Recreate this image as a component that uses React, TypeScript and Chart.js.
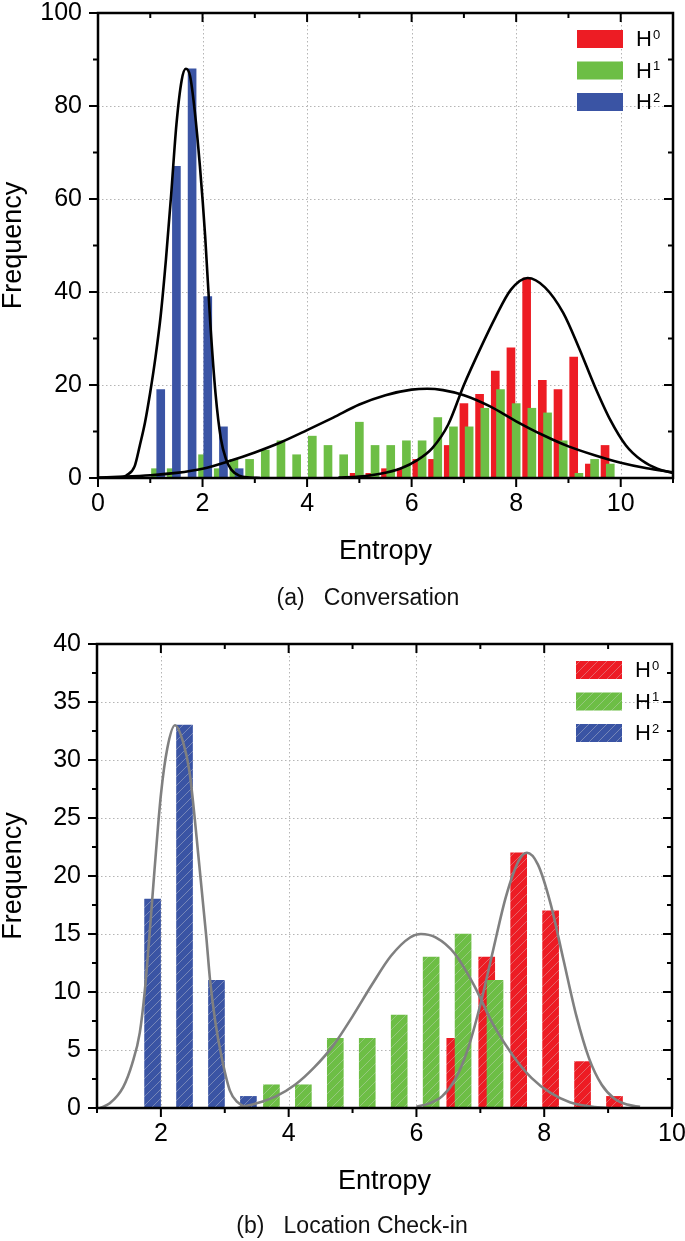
import React, { useEffect, useRef } from 'react';
import { Chart, registerables } from 'chart.js';

Chart.register(...registerables);

const FONT = '"Liberation Sans", Arial, Helvetica, sans-serif';
Chart.defaults.font.family = FONT;

const RED = '#ED1C24';
const GREEN = '#6DBE45';
const BLUE = '#3A54A4';

// ---------- (a) Conversation ----------
const A_H0_X = [4.9, 5.2, 5.5, 5.8, 6.1, 6.4, 6.7, 7.0, 7.3, 7.6, 7.9, 8.2, 8.5, 8.8, 9.1, 9.4, 9.7];
const A_H0_Y = [1, 1, 2, 2, 4, 4, 7, 16, 18, 23, 28, 43, 21, 19, 26, 3, 7];
const A_H1_X = [1.1, 1.4, 2.0, 2.3, 2.6, 2.9, 3.2, 3.5, 3.8, 4.1, 4.4, 4.7, 5.0, 5.3, 5.6, 5.9, 6.2, 6.5, 6.8, 7.1, 7.4, 7.7, 8.0, 8.3, 8.6, 8.9, 9.2, 9.5, 9.8];
const A_H1_Y = [2, 2, 5, 2, 4, 4, 6, 8, 5, 9, 7, 5, 12, 7, 7, 8, 8, 13, 11, 11, 15, 19, 16, 15, 14, 8, 1, 4, 3];
const A_H2_X = [1.2, 1.5, 1.8, 2.1, 2.4, 2.7];
const A_H2_Y = [19, 67, 88, 39, 11, 2];

const A_FIT0_X = [4.6, 5.0, 5.4, 5.8, 6.1, 6.4, 6.7, 7.0, 7.3, 7.6, 7.9, 8.22, 8.55, 8.9, 9.2, 9.5, 9.8, 10.1, 10.4, 10.7, 11.0];
const A_FIT0_Y = [0.1, 0.3, 0.9, 2.1, 3.8, 6.5, 11.5, 20, 27.5, 34.5, 40.5, 43, 41, 35.5, 28, 19.8, 12.5, 7, 3.8, 2, 1.1];
const A_FIT1_X = [0, 0.5, 1, 1.5, 2, 2.5, 3, 3.5, 4, 4.5, 5, 5.5, 6, 6.3, 6.6, 7, 7.5, 8, 8.5, 9, 9.5, 10, 10.5, 11];
const A_FIT1_Y = [0.1, 0.3, 0.6, 1.1, 2, 3.6, 5.5, 7.7, 10.3, 13, 15.8, 17.8, 19, 19.2, 18.9, 17.8, 15.4, 12.2, 9.3, 6.8, 4.9, 3.3, 2.1, 1.2];
const A_FIT2_X = [0, 0.4, 0.55, 0.7, 0.8, 0.9, 1.0, 1.1, 1.2, 1.3, 1.4, 1.5, 1.6, 1.68, 1.76, 1.85, 1.95, 2.05, 2.15, 2.25, 2.35, 2.45, 2.55, 2.7, 2.9, 3.1];
const A_FIT2_Y = [0, 0.1, 0.6, 2.5, 7, 12, 18.5, 26, 35, 47, 61, 76, 85.5, 88, 86.5, 79, 67, 52, 33, 18, 8.5, 4, 1.8, 0.5, 0.1, 0];

const A_X_LABELS = [0, 2, 4, 6, 8, 10];
const A_Y_LABELS = [0, 20, 40, 60, 80, 100];

// ---------- (b) Location Check-in ----------
const B_H0_X = [6.6, 7.1, 7.6, 8.1, 8.6, 9.1];
const B_H0_Y = [6, 13, 22, 17, 4, 1];
const B_H1_X = [3.73, 4.23, 4.73, 5.23, 5.73, 6.23, 6.73, 7.23];
const B_H1_Y = [2, 2, 6, 6, 8, 13, 15, 11];
const B_H2_X = [1.87, 2.37, 2.87, 3.37];
const B_H2_Y = [18, 33, 11, 1];

const B_FIT0_X = [6.0, 6.2, 6.4, 6.6, 6.8, 7.0, 7.2, 7.4, 7.6, 7.73, 7.9, 8.1, 8.3, 8.5, 8.7, 8.9, 9.1, 9.3, 9.5];
const B_FIT0_Y = [0.1, 0.4, 1.0, 2.4, 5.0, 8.9, 13.6, 18.2, 21.3, 22, 21.0, 17.6, 12.8, 8.0, 4.3, 2.0, 0.8, 0.3, 0.1];
const B_FIT1_X = [3.2, 3.5, 3.8, 4.1, 4.4, 4.7, 5.0, 5.3, 5.6, 5.9, 6.07, 6.3, 6.6, 6.9, 7.2, 7.5, 7.8, 8.1, 8.4, 8.7, 9.0];
const B_FIT1_Y = [0, 0.4, 1.0, 2.0, 3.5, 5.4, 7.9, 10.6, 13.1, 14.7, 15, 14.7, 13.3, 10.6, 7.2, 4.6, 2.6, 1.3, 0.5, 0.15, 0];
const B_FIT2_X = [1.05, 1.2, 1.41, 1.55, 1.67, 1.75, 1.83, 1.9, 2.0, 2.1, 2.22, 2.35, 2.45, 2.6, 2.71, 2.77, 2.85, 2.95, 3.08, 3.2, 3.35];
const B_FIT2_Y = [0, 0.4, 1.8, 3.8, 6.5, 10.2, 15.5, 20.5, 27, 31, 33, 31.5, 28.9, 21, 14.8, 11, 7.5, 4.4, 1.5, 0.5, 0];

const B_X_LABELS = [2, 4, 6, 8, 10];
const B_Y_LABELS = [0, 5, 10, 15, 20, 25, 30, 35, 40];

const SUPS = ['0', '1', '2'];

function hatch(color: string): CanvasPattern | string {
  const c = document.createElement('canvas');
  c.width = 9;
  c.height = 9;
  const g = c.getContext('2d');
  if (!g) return color;
  g.fillStyle = color;
  g.fillRect(0, 0, 9, 9);
  g.strokeStyle = 'rgba(215,215,215,0.38)';
  g.lineWidth = 1;
  g.beginPath();
  g.moveTo(-1, 10); g.lineTo(10, -1);
  g.moveTo(-1, 1); g.lineTo(1, -1);
  g.moveTo(8, 10); g.lineTo(10, 8);
  g.stroke();
  return g.createPattern(c, 'repeat') || color;
}

function framePlugin(legendFills: any[]) {
  return {
    id: 'frame',
    beforeDatasetsDraw(chart: any) {
      const { ctx, chartArea: a } = chart;
      const xs = chart.scales.x;
      const ys = chart.scales.y;
      ctx.save();
      ctx.strokeStyle = '#b5b5b5';
      ctx.lineWidth = 1;
      ctx.setLineDash([1.5, 2.5]);
      for (const t of xs.ticks) {
        if (!t.label) continue;
        const p = Math.round(xs.getPixelForValue(t.value)) + 0.5;
        if (p <= a.left + 3 || p >= a.right - 3) continue;
        ctx.beginPath(); ctx.moveTo(p, a.top); ctx.lineTo(p, a.bottom); ctx.stroke();
      }
      for (const t of ys.ticks) {
        if (!t.label) continue;
        const p = Math.round(ys.getPixelForValue(t.value)) + 0.5;
        if (p <= a.top + 3 || p >= a.bottom - 3) continue;
        ctx.beginPath(); ctx.moveTo(a.left, p); ctx.lineTo(a.right, p); ctx.stroke();
      }
      ctx.restore();
    },
    afterDraw(chart: any) {
      const { ctx, chartArea: a } = chart;
      const xs = chart.scales.x;
      const ys = chart.scales.y;
      ctx.save();
      ctx.strokeStyle = '#000';
      ctx.lineWidth = 2;
      for (const t of xs.ticks) {
        const L = t.label ? 9 : 5;
        const p = xs.getPixelForValue(t.value);
        ctx.beginPath();
        ctx.moveTo(p, a.bottom); ctx.lineTo(p, a.bottom + L);
        ctx.moveTo(p, a.top); ctx.lineTo(p, a.top + L);
        ctx.stroke();
      }
      for (const t of ys.ticks) {
        const L = t.label ? 9 : 5;
        const p = ys.getPixelForValue(t.value);
        ctx.beginPath();
        ctx.moveTo(a.left - L, p); ctx.lineTo(a.left, p);
        ctx.moveTo(a.right - L, p); ctx.lineTo(a.right, p);
        ctx.stroke();
      }
      ctx.lineWidth = 2.5;
      ctx.strokeRect(a.left, a.top, a.right - a.left, a.bottom - a.top);
      // legend
      const bx = a.right - 96;
      legendFills.forEach((fill, i) => {
        const cy = a.top + 26 + i * 31.5;
        ctx.fillStyle = fill;
        ctx.fillRect(bx, cy - 9, 46, 18);
        ctx.fillStyle = '#000';
        ctx.textAlign = 'left';
        ctx.textBaseline = 'middle';
        ctx.font = `22px ${FONT}`;
        ctx.fillText('H', a.right - 37, cy + 1);
        const w = ctx.measureText('H').width;
        ctx.font = `13px ${FONT}`;
        ctx.fillText(SUPS[i], a.right - 37 + w + 1, cy - 4);
      });
      ctx.restore();
    },
  };
}

type Spec = {
  bars: { x: number[]; y: number[] }[];
  colors: string[];
  patterned: boolean;
  thickness: number;
  fits: { x: number[]; y: number[] }[];
  fitColor: string;
  xMin: number; xMax: number; xStep: number; xLabels: number[];
  yMin: number; yMax: number; yStep: number; yLabels: number[];
  axisWidth: number; axisHeight: number; padTop: number; padRight: number; titlePad: number;
};

function buildConfig(spec: Spec): any {
  const fills = spec.colors.map((c) => (spec.patterned ? hatch(c) : c));
  const barSets = spec.bars.map((b, i) => ({
    type: 'bar',
    label: 'H' + SUPS[i],
    data: b.x.map((x, j) => ({ x, y: b.y[j] })),
    backgroundColor: fills[i],
    borderWidth: 0,
    barThickness: spec.thickness,
    grouped: false,
    order: 3 - i,
  }));
  const lineSets = spec.fits.map((f, i) => ({
    type: 'line',
    label: 'fit' + i,
    data: f.x.map((x, j) => ({ x, y: f.y[j] })),
    borderColor: spec.fitColor,
    borderWidth: 2.6,
    pointRadius: 0,
    fill: false,
    cubicInterpolationMode: 'monotone',
    order: 0,
  }));
  const tickFont = { family: FONT, size: 25, lineHeight: 1 };
  const titleFont = { family: FONT, size: 27, lineHeight: 1 };
  return {
    type: 'bar',
    data: { datasets: [...barSets, ...lineSets] },
    options: {
      responsive: false,
      animation: false,
      devicePixelRatio: 1,
      events: [],
      layout: { padding: { top: spec.padTop, right: spec.padRight, left: 0, bottom: 0 } },
      plugins: { legend: { display: false }, tooltip: { enabled: false }, title: { display: false } },
      scales: {
        x: {
          type: 'linear',
          min: spec.xMin,
          max: spec.xMax,
          offset: false,
          grid: { display: false, drawTicks: false },
          border: { display: false },
          ticks: {
            stepSize: spec.xStep,
            autoSkip: false,
            maxRotation: 0,
            padding: 14,
            color: '#000',
            font: tickFont,
            callback: (v: number) => (spec.xLabels.includes(v) ? String(v) : ''),
          },
          title: { display: true, text: 'Entropy', color: '#000', font: titleFont, padding: { top: 0, bottom: spec.titlePad } },
          afterFit: (s: any) => {
            s.height = spec.axisHeight;
            s.paddingLeft = 0;
            s.paddingRight = 0;
          },
        },
        y: {
          type: 'linear',
          min: spec.yMin,
          max: spec.yMax,
          grid: { display: false, drawTicks: false },
          border: { display: false },
          ticks: {
            stepSize: spec.yStep,
            autoSkip: false,
            padding: 16,
            color: '#000',
            font: tickFont,
            callback: (v: number) => (spec.yLabels.includes(v) ? String(v) : ''),
          },
          title: { display: true, text: 'Frequency', color: '#000', font: titleFont, padding: { top: 0, bottom: 0 } },
          afterFit: (s: any) => {
            s.width = spec.axisWidth;
            s.paddingTop = 0;
            s.paddingBottom = 0;
          },
        },
      },
    },
    plugins: [framePlugin(fills)],
  };
}

const SPEC_A: Spec = {
  bars: [{ x: A_H0_X, y: A_H0_Y }, { x: A_H1_X, y: A_H1_Y }, { x: A_H2_X, y: A_H2_Y }],
  colors: [RED, GREEN, BLUE],
  patterned: false,
  thickness: 8,
  fits: [{ x: A_FIT0_X, y: A_FIT0_Y }, { x: A_FIT1_X, y: A_FIT1_Y }, { x: A_FIT2_X, y: A_FIT2_Y }],
  fitColor: '#000',
  xMin: 0, xMax: 11, xStep: 1, xLabels: A_X_LABELS,
  yMin: 0, yMax: 100, yStep: 10, yLabels: A_Y_LABELS,
  axisWidth: 98, axisHeight: 142, padTop: 13, padRight: 12, titlePad: 55,
};

const SPEC_B: Spec = {
  bars: [{ x: B_H0_X, y: B_H0_Y }, { x: B_H1_X, y: B_H1_Y }, { x: B_H2_X, y: B_H2_Y }],
  colors: [RED, GREEN, BLUE],
  patterned: true,
  thickness: 16,
  fits: [{ x: B_FIT0_X, y: B_FIT0_Y }, { x: B_FIT1_X, y: B_FIT1_Y }, { x: B_FIT2_X, y: B_FIT2_Y }],
  fitColor: '#808080',
  xMin: 1, xMax: 10, xStep: 1, xLabels: B_X_LABELS,
  yMin: 0, yMax: 40, yStep: 2.5, yLabels: B_Y_LABELS,
  axisWidth: 97, axisHeight: 133, padTop: 24, padRight: 13, titlePad: 46,
};

function Panel(props: { spec: Spec; top: number; height: number; caption: string; captionTop: number; captionCenter: number }) {
  const ref = useRef<HTMLCanvasElement>(null);
  useEffect(() => {
    if (!ref.current) return;
    const chart = new Chart(ref.current, buildConfig(props.spec));
    return () => chart.destroy();
  }, []);
  return (
    <>
      <canvas
        ref={ref}
        width={685}
        height={props.height}
        style={{ position: 'absolute', left: 0, top: props.top, width: 685, height: props.height }}
      />
      <div
        style={{
          position: 'absolute',
          left: 0,
          top: props.captionTop,
          width: props.captionCenter * 2,
          textAlign: 'center',
          font: `23px ${FONT}`,
          lineHeight: '26px',
          whiteSpace: 'pre',
          color: '#111',
        }}
      >
        {props.caption}
      </div>
    </>
  );
}

export default function App() {
  return (
    <div style={{ position: 'absolute', left: 0, top: 0, width: 685, height: 1241, background: '#fff', overflow: 'hidden' }}>
      <Panel spec={SPEC_A} top={0} height={620} caption={'(a)   Conversation'} captionTop={584} captionCenter={368} />
      <Panel spec={SPEC_B} top={620} height={621} caption={'(b)   Location Check-in'} captionTop={1212} captionCenter={352} />
    </div>
  );
}
